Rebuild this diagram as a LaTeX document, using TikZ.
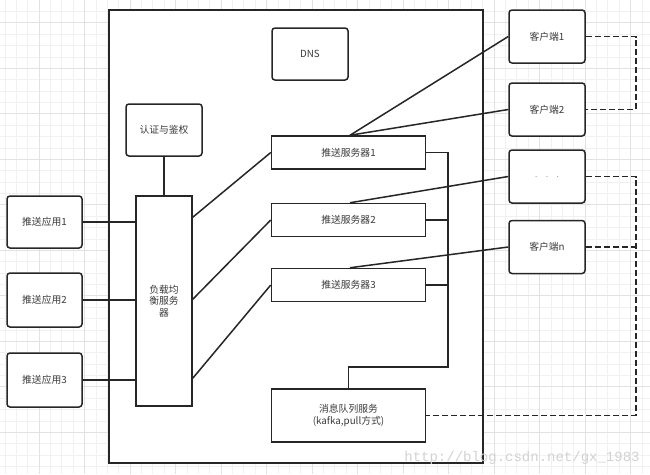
\documentclass[tikz,border=0pt]{standalone}
\usepackage{fontspec}
\setmainfont{Noto Sans CJK SC}
\newfontfamily\wmfont{Liberation Mono}
\usetikzlibrary{calc}
\definecolor{lineC}{HTML}{262626}
\definecolor{txtC}{HTML}{3A3A3A}
\definecolor{gridMinor}{HTML}{F1F1F1}
\definecolor{gridMajor}{HTML}{E2E2E2}
\tikzset{
  box/.style={draw=lineC, line width=1.5pt, fill=white, inner sep=0pt, align=center,
    text=txtC, font=\fontsize{9.8}{11.5}\selectfont},
  rbox/.style={box, rounded corners=3pt},
  conn/.style={draw=lineC, line width=1.5pt},
  dconn/.style={draw=lineC, line width=1.9pt, dash pattern=on 6pt off 3pt},
}
\begin{document}
\begin{tikzpicture}[x=1pt,y=-1pt]
\useasboundingbox (0,0) rectangle (650,474);
\fill[white] (0,0) rectangle (650,474);
% grid
\foreach \i in {0,...,56} {\draw[gridMinor, line width=0.6pt] (4.875+\i*11.375,0) -- (4.875+\i*11.375,474);}
\foreach \i in {0,...,40} {\draw[gridMinor, line width=0.6pt] (0,11.325+\i*11.375) -- (650,11.325+\i*11.375);}
\foreach \j in {0,...,13} {\draw[gridMajor, line width=0.7pt] (39+\j*45.5,0) -- (39+\j*45.5,474);}
\foreach \j in {0,...,9} {\draw[gridMajor, line width=0.7pt] (0,22.7+\j*45.5) -- (650,22.7+\j*45.5);}

% outer box
\node[box, minimum width=374pt, minimum height=453pt] (outer) at (296,236.5) {};

% watermark
\node[text=gray!35, font=\wmfont\fontsize{14}{14}\selectfont, inner sep=0pt] (wm) at (522,458) {http://blog.csdn.net/gx\_1983};

% nodes
\node[rbox, minimum width=76pt, minimum height=52pt] (dns) at (310,54) {DNS};
\node[rbox, minimum width=76pt, minimum height=52pt] (auth) at (164,130) {认证与鉴权};
\node[box, minimum width=56pt, minimum height=210pt] (lb) at (164,301) {负载均\\衡服务\\器};

\node[rbox, minimum width=75pt, minimum height=52pt] (app1) at (44.5,222) {推送应用1};
\node[rbox, minimum width=75pt, minimum height=54pt] (app2) at (44.5,300) {推送应用2};
\node[rbox, minimum width=75pt, minimum height=54pt] (app3) at (44.5,380) {推送应用3};

\node[box, minimum width=154pt, minimum height=33pt] (s1) at (348.5,152.5) {推送服务器1};
\node[box, minimum width=154pt, minimum height=33pt] (s2) at (348.5,220) {推送服务器2};
\node[box, minimum width=154pt, minimum height=33pt] (s3) at (348.5,285) {推送服务器3};
\node[box, minimum width=154pt, minimum height=53pt] (mq) at (348.5,415.5) {消息队列服务\\(kafka,pull方式)};

\node[rbox, minimum width=76pt, minimum height=53pt] (c1) at (547,36.5) {客户端1};
\node[rbox, minimum width=76pt, minimum height=53pt] (c2) at (547,109.5) {客户端2};
\node[rbox, minimum width=76pt, minimum height=53pt] (c3) at (547,176.5) {\textcolor{gray!70}{.\hspace{8pt}.\hspace{8pt}.}};
\node[rbox, minimum width=76pt, minimum height=53pt] (cn) at (547,247) {客户端n};

% coordinates
\coordinate (busTop) at (448,152.5);
\coordinate (busBot) at (448,367);
\coordinate (dashX) at (636,36.5);

% connectors
\draw[conn] (app1.east) -- (app1.east -| lb.west);
\draw[conn] (app2.east) -- (app2.east -| lb.west);
\draw[conn] (app3.east) -- (app3.east -| lb.west);
\draw[conn] (auth.south) -- (lb.north);

\draw[conn] ($(lb.north east)+(0,22)$) -- (s1.west);
\draw[conn] ($(lb.north east)+(0,104)$) -- (s2.west);
\draw[conn] ($(lb.north east)+(0,183)$) -- (s3.west);

\draw[conn] ($(s1.north)+(1.5,0)$) -- (c1.west);
\draw[conn] ($(s1.north)+(1.5,0)$) -- (c2.west);
\draw[conn] ($(s2.north)+(1.5,0)$) -- (c3.west);
\draw[conn] ($(s3.north)+(1.5,0)$) -- (cn.west);

\draw[conn] (s1.east) -- (busTop) -- (busBot) -- (busBot -| mq.north) -- (mq.north);
\draw[conn] (s2.east) -- (s2.east -| busTop);
\draw[conn] (s3.east) -- (s3.east -| busTop);

\draw[dconn] (c1.east) -- (c1.east -| dashX) -- (c2.east -| dashX) -- (c2.east);
\draw[dconn] (c3.east) -- (c3.east -| dashX) |- (mq.east);
\draw[dconn] (cn.east) -- (cn.east -| dashX);
\end{tikzpicture}
\end{document}
